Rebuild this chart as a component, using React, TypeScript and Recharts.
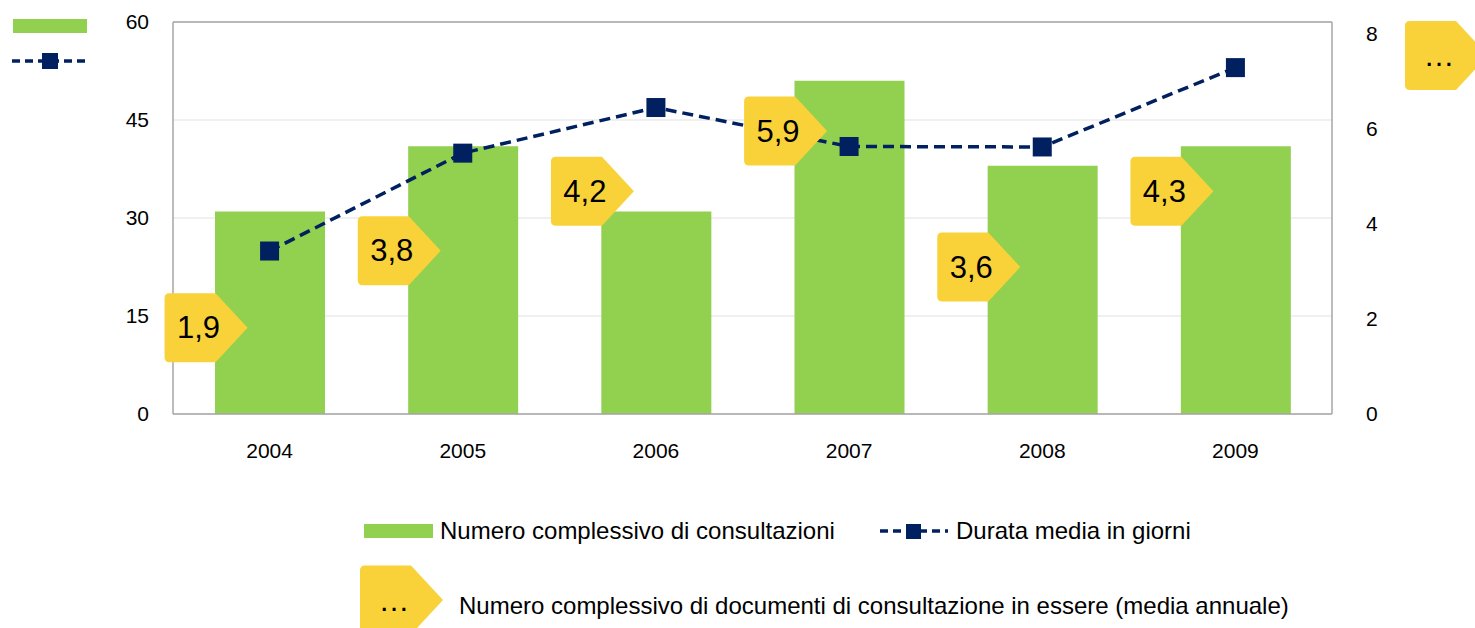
import React from 'react';
import {
  ComposedChart,
  Bar,
  Line,
  XAxis,
  YAxis,
  CartesianGrid,
  ReferenceLine,
} from 'recharts';

const years = ['2004', '2005', '2006', '2007', '2008', '2009'];
const consultazioni = [31, 41, 31, 51, 38, 41];
const durataMedia = [3.43, 5.49, 6.45, 5.63, 5.62, 7.29];
const documentiInEssere = ['1,9', '3,8', '4,2', '5,9', '3,6', '4,3'];
// where each yellow tag sits, read on the left axis
const tagLevel = [13.2, 25, 34.1, 43.3, 22.5, 34.1];

const leftTicks = [0, 15, 30, 45, 60];
const rightTicks = [0, 2, 4, 6, 8];

const GREEN = '#92D050';
const NAVY = '#002060';
const YELLOW = '#F9D23A';
const BORDER = '#a6a6a6';
const FONT = '"Liberation Sans", Arial, sans-serif';

const data = years.map((year, i) => ({
  year,
  consultazioni: consultazioni[i],
  durata: durataMedia[i],
  tag: tagLevel[i],
  tagText: documentiInEssere[i],
}));

function tagPath(x0: number, cy: number) {
  const h = 34.5;
  const r = 5;
  const xb = x0 + 51;
  const xt = x0 + 83;
  const y0 = cy - h;
  const y1 = cy + h;
  return `M${x0 + r},${y0} L${xb},${y0} L${xt},${cy} L${xb},${y1} L${x0 + r},${y1} Q${x0},${y1} ${x0},${y1 - r} L${x0},${y0 + r} Q${x0},${y0} ${x0 + r},${y0} Z`;
}

function Tag({ x0, cy, text }: { x0: number; cy: number; text: string }) {
  return (
    <g>
      <path d={tagPath(x0, cy)} fill={YELLOW} />
      <text
        x={x0 + 34}
        y={cy}
        textAnchor="middle"
        dominantBaseline="central"
        fontSize={31}
        fontFamily={FONT}
        fill="#000"
      >
        {text}
      </text>
    </g>
  );
}

const renderTag = (props: any) => {
  const { cx, cy, index, payload } = props;
  return <Tag key={`tag-${index}`} x0={cx - 105} cy={cy} text={payload.tagText} />;
};

const renderSquare = (props: any) => {
  const { cx, cy, index } = props;
  return <rect key={`sq-${index}`} x={cx - 9.5} y={cy - 9.5} width={19} height={19} fill={NAVY} />;
};

const legendText: React.CSSProperties = {
  position: 'absolute',
  fontFamily: FONT,
  fontSize: 24,
  color: '#000',
  whiteSpace: 'nowrap',
  lineHeight: '28px',
};

export default function App() {
  return (
    <div style={{ position: 'absolute', left: 0, top: 0, width: 1475, height: 628, background: '#fff', overflow: 'hidden' }}>
      <ComposedChart
        width={1475}
        height={628}
        data={data}
        margin={{ top: 22, right: 83, bottom: 154, left: 0 }}
      >
        <CartesianGrid yAxisId="left" vertical={false} stroke="#ebebeb" strokeWidth={1.5} />
        <XAxis
          dataKey="year"
          height={60}
          tickLine={false}
          tickSize={0}
          tickMargin={29}
          axisLine={{ stroke: BORDER, strokeWidth: 1.5 }}
          tick={{ fill: '#000', fontSize: 21, fontFamily: FONT }}
        />
        <YAxis
          yAxisId="left"
          width={173}
          domain={[0, 60]}
          ticks={leftTicks}
          tickLine={false}
          tickSize={0}
          tickMargin={24}
          axisLine={{ stroke: BORDER, strokeWidth: 1.5 }}
          tick={{ fill: '#000', fontSize: 21, fontFamily: FONT }}
        />
        <YAxis
          yAxisId="right"
          orientation="right"
          width={60}
          domain={[0, 8.25]}
          ticks={rightTicks}
          tickLine={false}
          tickSize={0}
          tickMargin={34}
          axisLine={{ stroke: BORDER, strokeWidth: 1.5 }}
          tick={{ fill: '#000', fontSize: 21, fontFamily: FONT }}
        />
        <ReferenceLine yAxisId="left" y={60} stroke={BORDER} strokeWidth={1.5} />
        <Bar yAxisId="left" dataKey="consultazioni" fill={GREEN} barSize={110} isAnimationActive={false} />
        <Line
          yAxisId="right"
          dataKey="durata"
          stroke={NAVY}
          strokeWidth={3.5}
          strokeDasharray="11 6"
          dot={renderSquare}
          activeDot={false}
          isAnimationActive={false}
        />
        <Line
          yAxisId="left"
          dataKey="tag"
          stroke="none"
          dot={renderTag}
          activeDot={false}
          legendType="none"
          isAnimationActive={false}
        />
      </ComposedChart>

      {/* top-left key and top-right tag */}
      <svg width={1475} height={628} style={{ position: 'absolute', left: 0, top: 0, pointerEvents: 'none' }}>
        <rect x={13} y={19} width={74} height={14} fill={GREEN} />
        <line x1={12} y1={61} x2={86} y2={61} stroke={NAVY} strokeWidth={3.5} strokeDasharray="8 5" />
        <rect x={42} y={53} width={16} height={16} fill={NAVY} />
        <Tag x0={1405} cy={55.5} text="…" />

        {/* bottom legend */}
        <rect x={364} y={524} width={69} height={14} fill={GREEN} />
        <line x1={880} y1={531} x2={948} y2={531} stroke={NAVY} strokeWidth={3.5} strokeDasharray="8 5" />
        <rect x={906} y={524} width={15} height={15} fill={NAVY} />
        <Tag x0={360} cy={600} text="…" />
      </svg>
      <div style={{ ...legendText, left: 440, top: 517 }}>Numero complessivo di consultazioni</div>
      <div style={{ ...legendText, left: 956, top: 517 }}>Durata media in giorni</div>
      <div style={{ ...legendText, left: 459, top: 592 }}>
        Numero complessivo di documenti di consultazione in essere (media annuale)
      </div>
    </div>
  );
}
